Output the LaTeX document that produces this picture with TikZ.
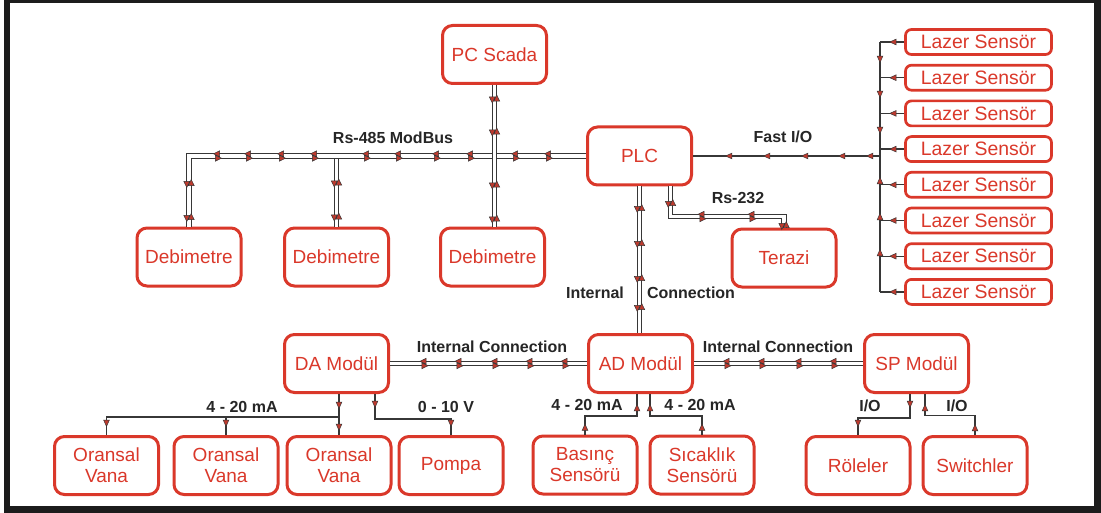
\documentclass[tikz,border=0pt]{standalone}
\usepackage{fontspec}
\setmainfont{Liberation Sans}
\usetikzlibrary{arrows.meta,decorations.markings}

\definecolor{boxred}{RGB}{218,56,42}
\definecolor{linegray}{RGB}{55,55,55}
\definecolor{tipred}{RGB}{190,58,46}
\definecolor{framedark}{RGB}{28,28,28}

\newcommand{\twotips}{%
  \filldraw[fill=tipred,draw=linegray,line width=0.25pt]
    (-2.0pt,1.12pt) -- (1.1pt,2.6pt) -- (1.1pt,-0.36pt) -- cycle
    (2.0pt,-1.12pt) -- (-1.1pt,-2.6pt) -- (-1.1pt,0.36pt) -- cycle;}

\tikzset{
  unit/.style={draw=boxred, line width=1.5pt, rounded corners=5pt,
    minimum width=52pt, minimum height=29pt, inner sep=1pt, align=center,
    text=boxred, font=\fontsize{9.5}{10.5}\selectfont},
  sensorbox/.style={unit, rounded corners=3pt, line width=1.35pt,
    minimum width=73pt, minimum height=12.5pt, inner sep=0pt,
    font=\fontsize{9.7}{10.5}\selectfont},
  lbl/.style={font=\bfseries\fontsize{8}{9}\selectfont, text=black!85},
  dline/.style={draw=linegray, line width=0.55pt, double=white, double distance=1.7pt},
  sig/.style={draw=linegray, line width=0.6pt},
  dmk/.style={postaction={decorate,decoration={markings,
    mark=at position #1 with {\twotips}}}},
  smk/.style={postaction={decorate,decoration={markings,
    mark=at position #1 with {\arrow[linegray,line width=0.25pt]{Triangle[length=3.6pt,width=3.2pt,fill=tipred]}}}}},
}

\begin{document}
\begin{tikzpicture}[x=0.5pt,y=-0.5pt]
  % frame
  \useasboundingbox (0,0) rectangle (1101,513);
  \fill[framedark] (4,0) rectangle (1101,513);
  \fill[white] (10,3) rectangle (1094,506);

  % top units
  \node[unit] (scada) at (494.5,54.5) {PC Scada};
  \node[unit] (plc) at (639.5,156) {PLC};
  \node[unit] (deb1) at (189,257) {Debimetre};
  \node[unit] (deb2) at (336.5,257) {Debimetre};
  \node[unit] (deb3) at (492.5,257) {Debimetre};
  \node[unit] (terazi) at (784,258) {Terazi};
  \foreach \i in {1,...,8}
    \node[sensorbox] (ls\i) at (978.5,{42+(\i-1)*35.7}) {Lazer Sensör};

  % modules
  \node[unit] (da) at (336.5,363.5) {DA Modül};
  \node[unit] (ad) at (640.5,363.5) {AD Modül};
  \node[unit] (sp) at (916.5,363.5) {SP Modül};

  % field devices
  \node[unit] (ov1) at (106.5,465.5) {Oransal\\Vana};
  \node[unit] (ov2) at (226,465.5) {Oransal\\Vana};
  \node[unit] (ov3) at (339,465.5) {Oransal\\Vana};
  \node[unit] (pompa) at (451,465.5) {Pompa};
  \node[unit] (basinc) at (585,465) {Basınç\\Sensörü};
  \node[unit] (sicaklik) at (702,465) {Sıcaklık\\Sensörü};
  \node[unit] (role) at (858,465.5) {Röleler};
  \node[unit] (switch) at (975,465.5) {Switchler};

  % Rs-485 ModBus
  \draw[dline, dmk/.list={13.5pt,30.5pt}] (plc.west -| deb2.north) -- (deb2.north);
  \draw[dline, dmk/.list={18.75pt,35.25pt,57.75pt,74.75pt,93.75pt,109.75pt,135.75pt,152.25pt,168.75pt,184.25pt,212.25pt,229.25pt}]
    (plc.west) -| (deb1.north);
  \draw[dline, dmk/.list={7pt,23.5pt,50pt,67pt}] (scada.south) -- (scada.south |- deb3.north);

  % Rs-232
  \draw[dline, dmk/.list={8.5pt,30.75pt,55.75pt,76.25pt}]
    ([xshift=15.5pt]plc.south) -- ++(0,30) -| (terazi.north);

  % internal connections
  \draw[dline, dmk/.list={11pt,28.5pt,46pt,60.5pt}] (plc.south) -- (plc.south |- ad.north);
  \draw[dline, dmk/.list={17pt,34.5pt,52.5pt,70pt,87.5pt}] (da.east) -- (ad.west);
  \draw[dline, dmk/.list={16.5pt,34pt,52.5pt,70pt}] (ad.east) -- (sp.west);

  % Fast I/O
  \coordinate (fbus) at (880,156);
  \draw[sig, smk/.list={7pt,21pt,39.5pt,58.5pt,77.5pt}] (fbus) -- (plc.east);
  \foreach \i in {1,...,8}
    \draw[sig, smk=7.5pt] (ls\i.west) -- (ls\i.west -| fbus);
  \draw[sig, smk/.list={10.5pt,28pt,46pt}] (ls1.west -| fbus) -- (fbus);
  \draw[sig, smk/.list={21.5pt,39.5pt,57.5pt}] (ls8.west -| fbus) -- (fbus);

  % DA outputs
  \draw[sig, smk/.list={7.5pt,18.5pt}] (da.south -| ov3.north) -- (ov3.north);
  \draw[sig, smk=-4pt] (ov3.north |- 0,417) -| (ov1.north);
  \draw[sig, smk=-4pt] (ov2.north |- 0,417) -- (ov2.north);
  \draw[sig, smk/.list={7pt,-4pt}] ([xshift=19.25pt]da.south) -- ++(0,25) -| (pompa.north);

  % AD inputs
  \draw[sig, smk/.list={5.5pt,-5pt}] (basinc.north) -- ++(0,-18.5) -| ([xshift=-1.75pt]ad.south);
  \draw[sig, smk/.list={5.5pt,-5pt}] (sicaklik.north) -- ++(0,-18.5) -| ([xshift=4.75pt]ad.south);

  % SP I/O
  \draw[sig, smk/.list={7pt,-4pt}] ([xshift=-3.25pt]sp.south) -- ++(0,24) -| (role.north);
  \draw[sig, smk/.list={5.5pt,-5pt}] (switch.north) -- ++(0,-19.5) -| ([xshift=4.25pt]sp.south);

  % labels
  \node[lbl] (l485) at (393,138) {Rs-485 ModBus};
  \node[lbl] (lfast) at (783,137) {Fast I/O};
  \node[lbl] (l232) at (738,198) {Rs-232};
  \node[lbl] (lint) at (595,293) {Internal};
  \node[lbl] (lcon) at (691,293) {Connection};
  \node[lbl] (lda) at (492,347) {Internal Connection};
  \node[lbl] (lsp) at (778,347) {Internal Connection};
  \node[lbl] (lma1) at (242,407) {4 - 20 mA};
  \node[lbl] (lv) at (446,407) {0 - 10 V};
  \node[lbl] (lma2) at (587,405) {4 - 20 mA};
  \node[lbl] (lma3) at (700,405) {4 - 20 mA};
  \node[lbl] (lio1) at (870,406) {I/O};
  \node[lbl] (lio2) at (957,406) {I/O};
\end{tikzpicture}
\end{document}
